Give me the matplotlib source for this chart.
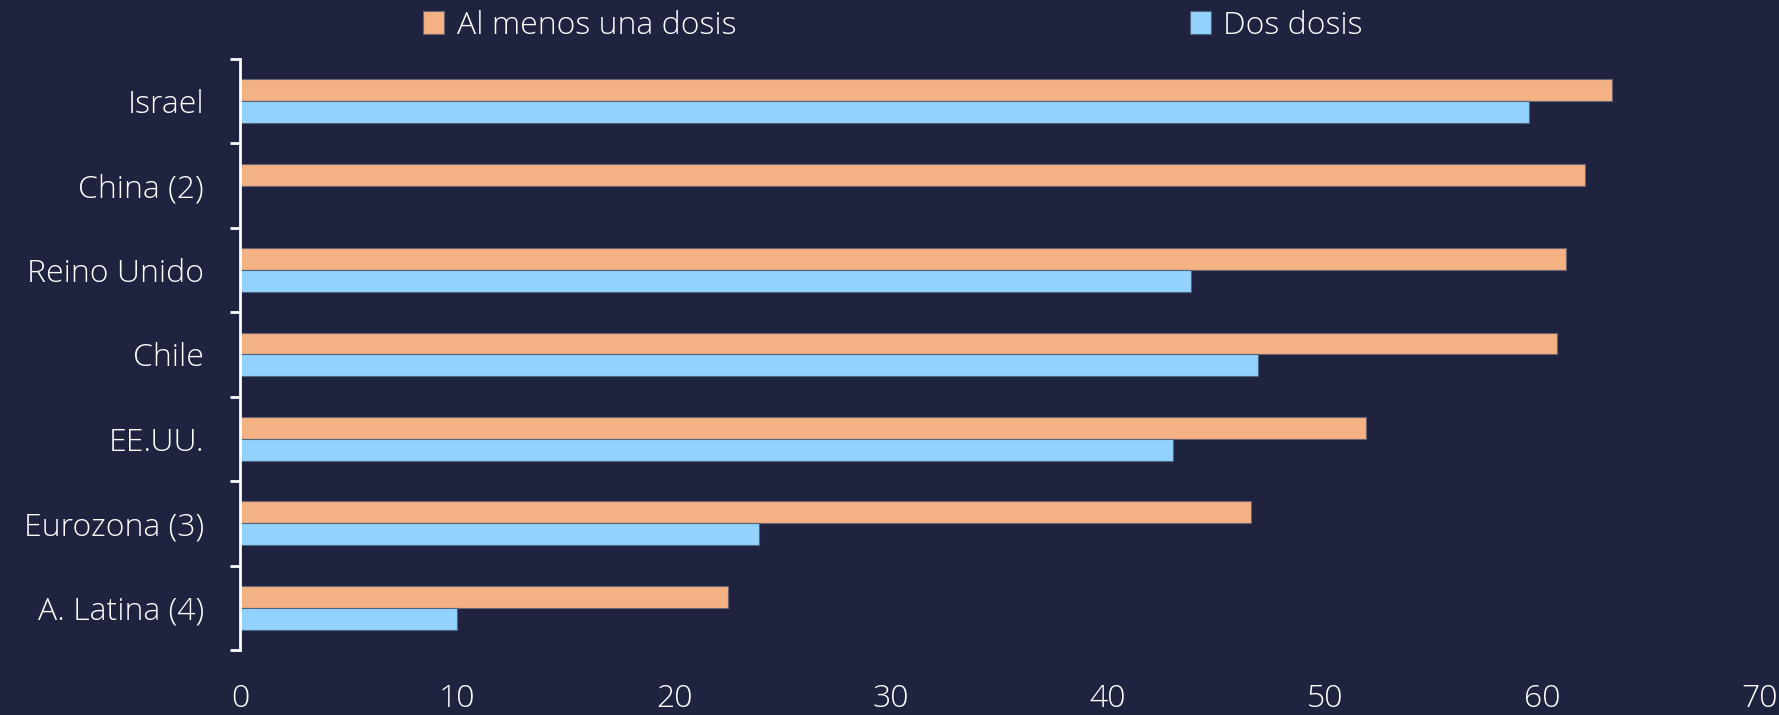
import matplotlib.pyplot as plt
import numpy as np

# Data
paises = ['Israel', 'China (2)', 'Reino Unido', 'Chile', 'EE.UU.', 'Eurozona (3)', 'A. Latina (4)']
una_dosis = [63.2, 62.0, 61.1, 60.7, 51.9, 46.6, 22.5]
dos_dosis = [59.4, 0.0, 43.8, 46.9, 43.0, 23.9, 10.0]
x_ticks = [0, 10, 20, 30, 40, 50, 60, 70]

bg = '#1F2340'
naranja = '#F4B183'
azul = '#93D1FF'
plt.rcParams['font.family'] = ['Open Sans', 'DejaVu Sans']
plt.rcParams['font.weight'] = 'light'

fig = plt.figure(figsize=(17.79, 7.15), dpi=100, facecolor=bg)
ax = fig.add_axes([0.1349, 0.0909, 0.8539, 0.8266], facecolor=bg)

y = np.arange(len(paises))
h = 0.26
ax.barh(y - h / 2, una_dosis, height=h, color=naranja, edgecolor='#6b6470',
        linewidth=0.8, label='Al menos una dosis')
ax.barh(y + h / 2, dos_dosis, height=h, color=azul, edgecolor='#4d6680',
        linewidth=0.8, label='Dos dosis')

ax.set_ylim(len(paises) - 0.5, -0.5)
ax.set_xlim(0, 70)
ax.set_yticks(y)
ax.set_yticklabels(paises)
ax.set_yticks(np.arange(-0.5, len(paises)), minor=True)
ax.set_xticks(x_ticks)

ax.tick_params(axis='y', which='major', length=0, pad=26, labelsize=23, labelcolor='white')
ax.tick_params(axis='y', which='minor', length=7, width=2, color='white', direction='out')
ax.tick_params(axis='x', length=0, pad=24, labelsize=23, labelcolor='white')

for s in ['top', 'right', 'bottom']:
    ax.spines[s].set_visible(False)
ax.spines['left'].set_color('white')
ax.spines['left'].set_linewidth(2)

fig.legend(loc='center', bbox_to_anchor=(0.502, 0.964), ncol=2, frameon=False,
           fontsize=23, labelcolor='white', handlelength=0.65, handleheight=0.75,
           handletextpad=0.4, columnspacing=14.2)

fig.savefig('out.png', dpi=100, facecolor=bg)
